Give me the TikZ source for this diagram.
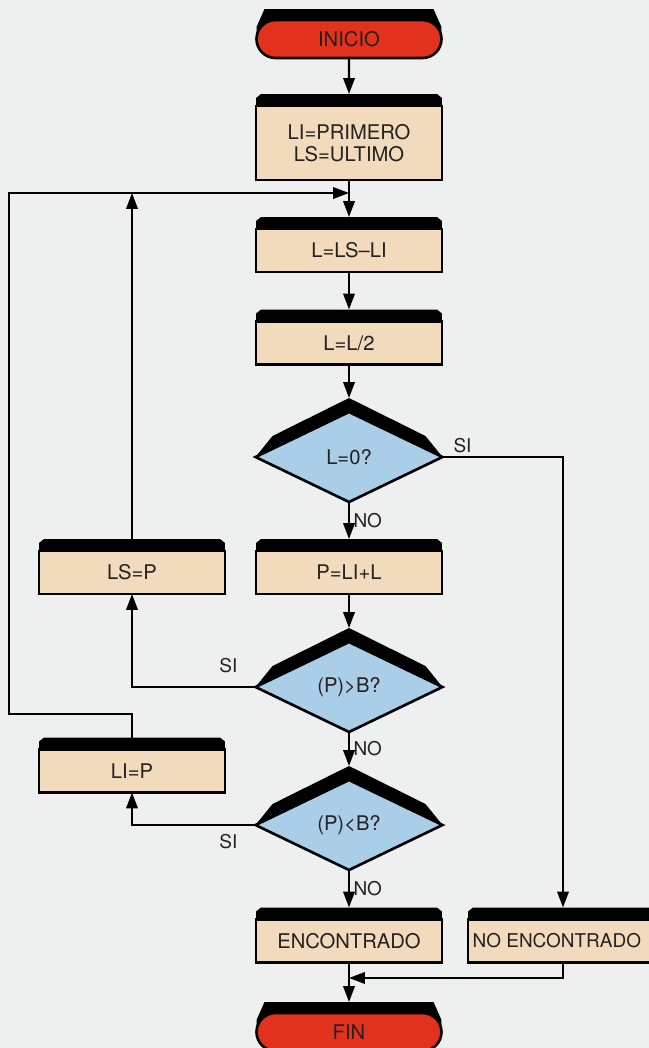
\documentclass[tikz,border=0pt]{standalone}
\usepackage{fontspec}
\setmainfont{TeX Gyre Heros}
\usetikzlibrary{calc, shapes.geometric, shapes.misc, arrows.meta}

\definecolor{papel}{RGB}{238,240,240}
\definecolor{rojo}{RGB}{226,50,30}
\definecolor{crema}{RGB}{242,218,188}
\definecolor{celeste}{RGB}{170,205,232}
\definecolor{tinta}{RGB}{35,33,33}

\pgfdeclarelayer{capafondo}
\pgfdeclarelayer{capasombra}
\pgfsetlayers{capafondo,capasombra,main}

\tikzset{
	caja/.style = {rectangle, draw, line width=1.5pt, fill=crema, text=tinta,
		minimum width=3.72cm, minimum height=0.86cm, inner sep=0pt, outer sep=0pt,
		font=\fontsize{11.5}{12.5}\selectfont},
	decision/.style = {diamond, draw, line width=1.5pt, fill=celeste, text=tinta,
		minimum width=3.74cm, minimum height=1.8cm, inner sep=0pt, outer sep=0pt,
		font=\fontsize{11.5}{12.5}\selectfont},
	term/.style = {rounded rectangle, draw, line width=1.5pt, fill=rojo, text=tinta,
		minimum width=3.7cm, minimum height=0.76cm, inner sep=0pt, outer sep=0pt,
		font=\fontsize{11.5}{12.5}\selectfont},
	flecha/.style = {line width=1.15pt, -{Triangle[length=9pt, width=6.5pt]}},
	etiq/.style = {text=tinta, inner sep=2pt, font=\fontsize{10.8}{12}\selectfont}
}

\begin{document}
\begin{tikzpicture}[x=0.02cm, y=-0.02cm]
		\useasboundingbox (0,0) rectangle (649,1048);
		\begin{pgfonlayer}{capafondo}
			\fill[papel] (0,0) rectangle (649,1048);
		\end{pgfonlayer}

		\node[term] (inicio) at (349,39) {INICIO};
		\node[caja, minimum height=1.48cm, align=center] (prim) at (349,143) {LI=PRIMERO\\LS=ULTIMO};
		\node[caja] (resta) at (349,250.5) {L=LS--LI};
		\node[caja] (mitad) at (349,343) {L=L/2};
		\node[decision] (cero) at (349,457) {L=0?};
		\node[caja] (suma) at (349,572.5) {P=LI+L};
		\node[caja] (lsp) at (132,572.5) {LS=P};
		\node[decision] (mayor) at (349,687) {(P)>B?};
		\node[caja] (lip) at (132,771) {LI=P};
		\node[decision] (menor) at (349,825) {(P)<B?};
		\node[caja] (enc) at (349,941) {ENCONTRADO};
		\node[caja, minimum width=3.8cm, font=\fontsize{10.8}{12}\selectfont] (noenc) at (563,941) {\hspace*{-7pt}NO ENCONTRADO};
		\node[term] (fin) at (349,1032) {FIN};

		\coordinate (union) at (349,193);
		\coordinate (vuelta) at (9,714);
		\coordinate (junta) at (349,978);

		\begin{pgfonlayer}{capasombra}
			\foreach \n in {prim,resta,mitad,suma,lsp,lip,enc,noenc}{
				\fill (\n.north west) -- ++(0,-8) -- ++(5,-4) -- ($(\n.north east)+(-5,-12)$) -- ++(5,4) -- (\n.north east) -- cycle;
				\coordinate (\n-top) at ($(\n.north)+(0,-12)$);
			}
			\foreach \n in {cero,mayor,menor}{
				\fill (\n.west) -- ++(17,-21) -- ($(\n.north)+(0,-14)$) -- ($(\n.east)+(-17,-21)$) -- (\n.east) -- cycle;
				\coordinate (\n-top) at ($(\n.north)+(0,-14)$);
			}
			\foreach \n in {inicio,fin}{
				\fill (\n.west) -- ++(0,-12) -- ++(8,-18) -- ($(\n.east)+(-8,-30)$) -- ++(8,18) -- (\n.east) -- cycle;
				\coordinate (\n-top) at ($(\n.north)+(0,-11)$);
			}
		\end{pgfonlayer}

		\draw[flecha] (inicio) -- (prim-top);
		\draw[flecha] (prim) -- (resta-top);
		\draw[flecha] (resta) -- (mitad-top);
		\draw[flecha] (mitad) -- (cero-top);
		\draw[flecha] (cero) -- node[etiq, right] {NO} (suma-top);
		\draw[flecha] (cero.east) -| node[etiq, above, pos=0.083] {SI} (noenc-top);
		\draw[flecha] (suma) -- (mayor-top);
		\draw[flecha] (mayor.west) -| node[etiq, above=0.2cm, pos=0.11] {SI} (lsp);
		\draw[flecha] (lsp-top) -- (lsp-top |- union);
		\draw[flecha] (mayor) -- node[etiq, right] {NO} (menor-top);
		\draw[flecha] (menor.west) -| node[etiq, below=0.1cm, pos=0.11] {SI} (lip);
		\draw[flecha] (lip-top) |- (vuelta) |- (union);
		\draw[flecha] (menor) -- node[etiq, right] {NO} (enc-top);
		\draw[flecha] (noenc) |- (junta);
		\draw[flecha] (enc) -- (fin-top);
	\end{tikzpicture}
\end{document}
